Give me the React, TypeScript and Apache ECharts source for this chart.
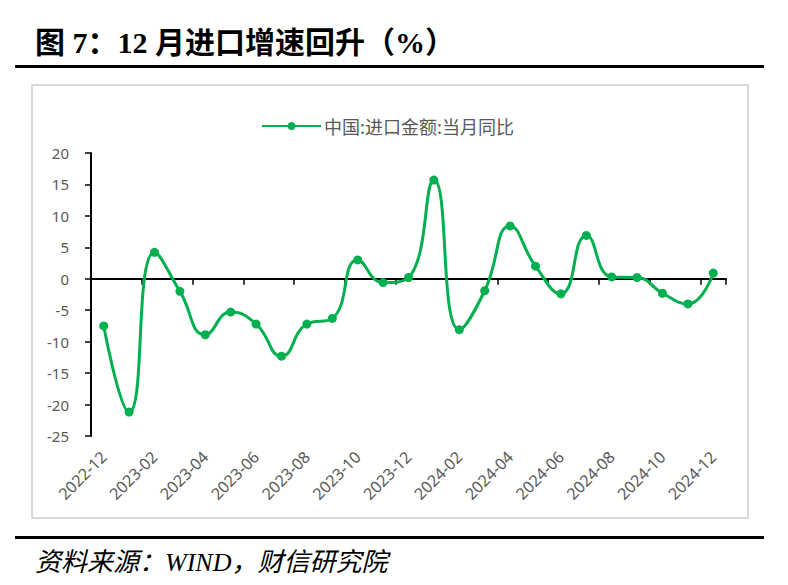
import React, { useEffect, useRef } from 'react';
import * as echarts from 'echarts';

const categories = [
  '2022-12', '2023-01', '2023-02', '2023-03', '2023-04', '2023-05', '2023-06',
  '2023-07', '2023-08', '2023-09', '2023-10', '2023-11', '2023-12', '2024-01',
  '2024-02', '2024-03', '2024-04', '2024-05', '2024-06', '2024-07', '2024-08',
  '2024-09', '2024-10', '2024-11', '2024-12',
];
const importYoY = [
  -7.5, -21.2, 4.2, -2.0, -8.9, -5.3, -7.2, -12.3, -7.2, -6.3, 3.0, -0.6, 0.2,
  15.7, -8.1, -1.9, 8.4, 2.0, -2.4, 6.9, 0.3, 0.2, -2.3, -4.0, 0.9,
];
const seriesName = '中国:进口金额:当月同比';
const titleText = '图 7：12 月进口增速回升（%）';
const sourceText = '资料来源：WIND，财信研究院';

export default function App() {
  const ref = useRef<HTMLDivElement>(null);
  useEffect(() => {
    const chart = echarts.init(ref.current!, null, { renderer: 'svg' });
    chart.setOption({
      animation: false,
      backgroundColor: '#ffffff',
      graphic: {
        elements: [
          {
            type: 'text', left: 35, top: 27, z: 10,
            style: {
              text: titleText, fill: '#000', fontSize: 30, fontWeight: 'bold',
              fontFamily: '"Liberation Serif", "Noto Sans CJK SC", serif',
            },
          },
          { type: 'rect', shape: { x: 15, y: 65, width: 749, height: 3 }, style: { fill: '#000' }, z: 10 },
          {
            type: 'rect', shape: { x: 32, y: 85, width: 716, height: 433 },
            style: { fill: '#fff', stroke: '#d9d9d9', lineWidth: 2 }, z: -10,
          },
          { type: 'rect', shape: { x: 15, y: 536, width: 749, height: 3 }, style: { fill: '#000' }, z: 10 },
          {
            type: 'text', left: 35, top: 549, z: 10,
            style: {
              text: sourceText, fill: '#000', fontSize: 26, fontStyle: 'italic',
              fontFamily: '"Liberation Serif", "Noto Sans CJK SC", serif',
            },
          },
        ],
      },
      legend: {
        left: 256, top: 112, padding: 5, itemWidth: 59, itemHeight: 10, itemGap: 10,
        textStyle: { color: '#595959', fontSize: 18, padding: [0, 0, 0, -2], fontFamily: '"Noto Sans CJK SC", sans-serif' },
        data: [seriesName],
      },
      grid: { left: 91, top: 153, width: 635, height: 283, containLabel: false },
      xAxis: [
        {
          type: 'category', data: categories, boundaryGap: true, position: 'bottom',
          axisLine: { onZero: true, lineStyle: { color: '#000', width: 2 } },
          axisTick: { show: true, interval: 1, length: 6, inside: false, lineStyle: { color: '#000', width: 1.5 } },
          axisLabel: { show: false },
          splitLine: { show: false },
        },
        {
          type: 'category', data: categories, boundaryGap: true, position: 'bottom',
          axisLine: { show: false, onZero: false },
          axisTick: { show: false },
          axisLabel: {
            show: true, interval: 1, rotate: 45, margin: 18, color: '#595959', fontSize: 16,
            fontFamily: '"Noto Sans", sans-serif',
          },
          splitLine: { show: false },
        },
      ],
      yAxis: {
        type: 'value', min: -25, max: 20, interval: 5,
        axisLine: { show: true, lineStyle: { color: '#000', width: 2 } },
        axisTick: { show: true, length: 6, lineStyle: { color: '#000', width: 1.5 } },
        axisLabel: { color: '#595959', fontSize: 15, margin: 22, fontFamily: '"Noto Sans", sans-serif' },
        splitLine: { show: false },
      },
      series: [
        {
          name: seriesName, type: 'line', data: importYoY, xAxisIndex: 0,
          smooth: 0.5, symbol: 'circle', symbolSize: 9,
          lineStyle: { color: '#00b050', width: 3 },
          itemStyle: { color: '#00b050' },
        },
      ],
    });
    return () => chart.dispose();
  }, []);
  return (
    <div
      ref={ref}
      style={{ position: 'fixed', left: 0, top: 0, width: 788, height: 585, background: '#fff' }}
    />
  );
}
